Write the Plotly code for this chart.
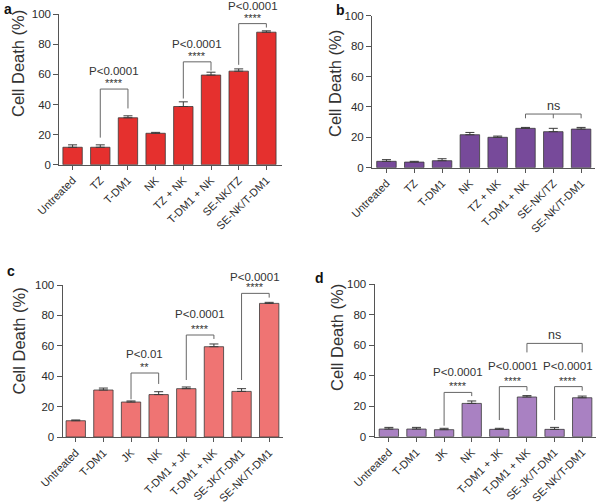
import plotly.graph_objects as go

# ---------------- data ----------------
cats_ab = ["Untreated", "TZ", "T-DM1", "NK", "TZ + NK", "T-DM1 + NK", "SE-NK/TZ", "SE-NK/T-DM1"]
cats_cd = ["Untreated", "T-DM1", "JK", "NK", "T-DM1 + JK", "T-DM1 + NK", "SE-JK/T-DM1", "SE-NK/T-DM1"]

vals_a = [11.6, 11.6, 31.2, 20.9, 38.7, 59.6, 62.2, 88.1]
err_a = [1.6, 1.6, 1.3, 0.6, 3.1, 1.9, 1.5, 0.9]

vals_b = [4.2, 3.7, 4.6, 21.7, 20.0, 25.9, 23.7, 25.4]
err_b = [1.1, 0.5, 1.3, 1.5, 0.8, 0.6, 2.2, 1.1]

vals_c = [10.7, 30.9, 23.0, 27.9, 31.8, 59.4, 30.0, 87.9]
err_c = [0.5, 1.3, 0.7, 1.9, 1.1, 1.8, 1.8, 0.7]

vals_d = [5.0, 5.0, 4.6, 21.8, 4.8, 26.0, 4.8, 25.5]
err_d = [1.1, 1.1, 0.9, 1.6, 0.7, 0.9, 1.3, 1.1]

y_ticks = [0, 20, 40, 60, 80, 100]

# significance brackets: (i, j, top, left_end, right_end, stars, label, label_y)
sig_a = [(1, 2, 50.3, 18.0, 37.4, "****", "P<0.0001", 62.0),
         (4, 5, 68.4, 44.0, 62.6, "****", "P<0.0001", 80.0),
         (6, 7, 93.8, 66.4, 91.2, "****", "P<0.0001", 105.5)]
sig_c = [(2, 3, 42.1, 24.8, 34.9, "**", "P<0.01", 54.4),
         (4, 5, 67.1, 37.5, 64.5, "****", "P<0.0001", 80.7),
         (6, 7, 94.5, 37.5, 91.7, "****", "P<0.0001", 105.0)]
sig_d = [(2, 3, 29.0, 7.2, 26.6, "****", "P<0.0001", 42.4),
         (4, 5, 32.8, 10.9, 30.1, "****", "P<0.0001", 46.3),
         (6, 7, 32.8, 10.9, 30.1, "****", "P<0.0001", 46.3)]
# ns brackets: (i, mid, j, top, leg_end, y_text)
ns_b = [(5, 6, 7, 35.3, 32.5, 40.6)]
ns_d = [(5, None, 7, 61.1, 55.2, 66.8)]

# ---------------- layout helpers ----------------
W, H = 600, 502
FONT = "Liberation Sans, Arial, Helvetica, sans-serif"
TXT = "#2b2b2b"
AX = "#555555"

panels = [
    # name, cats, vals, errs, color, x0px, x1px, ytop_px, ybot_px, xrange
    ("a", cats_ab, vals_a, err_a, "#E5302E", 59.3, 281.6, 14.3, 164.7, [-0.48, 7.55]),
    ("b", cats_ab, vals_b, err_b, "#774A9A", 372.0, 595.0, 15.7, 167.7, [-0.52, 7.5]),
    ("c", cats_cd, vals_c, err_c, "#EF7473", 62.5, 283.0, 285.0, 437.0, [-0.48, 7.5]),
    ("d", cats_cd, vals_d, err_d, "#A981C2", 374.5, 596.0, 284.0, 436.7, [-0.52, 7.5]),
]
ydom = {}

fig = go.Figure()
layout = dict(
    width=W, height=H, margin=dict(l=0, r=0, t=0, b=0, autoexpand=False),
    paper_bgcolor="white", plot_bgcolor="white", showlegend=False,
    font=dict(family=FONT, color=TXT, size=11),
)
annotations = []
shapes = []

letter_pos = {"a": (1.5, 15.5), "b": (333.5, 16.5), "c": (4.5, 277.0), "d": (313.0, 283.5)}
title_pos = {"a": (18.0, 64.0), "b": (335.0, 84.0), "c": (18.5, 341.0), "d": (337.0, 338.0)}

for k, (name, cats, vals, errs, color, x0, x1, yt, yb, xr) in enumerate(panels):
    idx = "" if k == 0 else str(k + 1)
    xa, ya = "x" + idx, "y" + idx
    ydom[idx] = (1 - yb / H, 1 - yt / H)
    fig.add_trace(go.Bar(
        x=list(range(len(cats))), y=vals, xaxis=xa, yaxis=ya, width=0.7,
        marker=dict(color=color, line=dict(color="#3a3a3a", width=0.8)),
        error_y=dict(type="data", array=errs, arrayminus=[0] * len(errs), symmetric=False,
                     color="#3a3a3a", thickness=1, width=4.5),
        cliponaxis=False,
    ))
    layout["xaxis" + idx] = dict(
        domain=[x0 / W, x1 / W], anchor=ya, range=xr, automargin=False,
        tickmode="array", tickvals=list(range(len(cats))), ticktext=cats,
        tickangle=-45, ticks="outside", ticklen=4, tickcolor=AX, tickwidth=1,
        showline=True, linecolor=AX, linewidth=1, showgrid=False, zeroline=False,
        tickfont=dict(size=11, color=TXT, family=FONT), fixedrange=True,
    )
    layout["yaxis" + idx] = dict(
        domain=[1 - yb / H, 1 - yt / H], anchor=xa, range=[0, 100], automargin=False,
        tickmode="array", tickvals=y_ticks, ticks="outside", ticklen=5, tickcolor=AX,
        tickwidth=1, showline=True, linecolor=AX, linewidth=1, showgrid=False,
        zeroline=False, tickfont=dict(size=11.5, color=TXT, family=FONT), fixedrange=True,
    )
    # panel letter
    lx, ly = letter_pos[name]
    annotations.append(dict(text="<b>%s</b>" % name, xref="paper", yref="paper",
                            x=lx / W, y=1 - ly / H, xanchor="left", yanchor="bottom",
                            showarrow=False, font=dict(size=14, color="#111", family=FONT),
                            yshift=-4))
    # y title
    tx, ty = title_pos[name]
    annotations.append(dict(text="Cell Death (%)", xref="paper", yref="paper",
                            x=tx / W, y=1 - ty / H,
                            xanchor="center", yanchor="middle", textangle=-90,
                            showarrow=False, font=dict(size=16.5, color="#333", family=FONT)))


def ypaper(idx, v):
    d0, d1 = ydom[idx]
    return d0 + (d1 - d0) * v / 100.0


def add_sig(items, idx):
    xa = "x" + idx
    ya = "y" + idx
    for (i, j, top, le, re, stars, label, ly) in items:
        shapes.append(dict(type="path", xref=xa, yref=ya,
                           path="M %g,%g L %g,%g L %g,%g L %g,%g" % (i, le, i, top, j, top, j, re),
                           line=dict(color="#666", width=1)))
        annotations.append(dict(text=stars, x=(i + j) / 2, y=ypaper(idx, top), xref=xa, yref="paper",
                                xanchor="center", yanchor="bottom", showarrow=False,
                                font=dict(size=11, color="#333", family=FONT), yshift=-2))
        annotations.append(dict(text=label, x=(i + j) / 2, y=ypaper(idx, ly), xref=xa, yref="paper",
                                xanchor="center", yanchor="middle", showarrow=False,
                                font=dict(size=11.5, color="#333", family=FONT)))


def add_ns(items, idx):
    xa = "x" + idx
    ya = "y" + idx
    for (i, mid, j, top, leg, ty) in items:
        shapes.append(dict(type="path", xref=xa, yref=ya,
                           path="M %g,%g L %g,%g L %g,%g L %g,%g" % (i, leg, i, top, j, top, j, leg),
                           line=dict(color="#666", width=1)))
        if mid is not None:
            shapes.append(dict(type="line", xref=xa, yref=ya, x0=mid, x1=mid, y0=top, y1=leg,
                               line=dict(color="#666", width=1)))
        annotations.append(dict(text="ns", x=(i + j) / 2, y=ypaper(idx, ty), xref=xa, yref="paper",
                                xanchor="center", yanchor="middle", showarrow=False,
                                font=dict(size=12.5, color="#333", family=FONT)))


add_sig(sig_a, "")
add_ns(ns_b, "2")
add_sig(sig_c, "3")
add_sig(sig_d, "4")
add_ns(ns_d, "4")

layout["annotations"] = annotations
layout["shapes"] = shapes
fig.update_layout(**layout)
fig.write_html("out.html", config={"displayModeBar": False},
               post_script="document.body.style.margin='0';")
